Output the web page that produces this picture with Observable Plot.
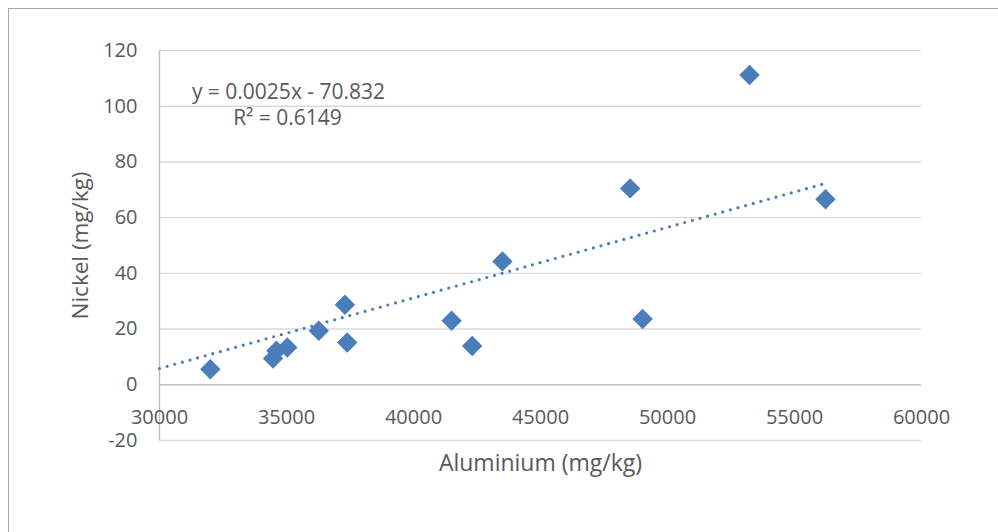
<!DOCTYPE html>
<html>
<head>
<meta charset="utf-8">
<script src="https://cdn.jsdelivr.net/npm/d3@7"></script>
<script src="https://cdn.jsdelivr.net/npm/@observablehq/plot@0.6"></script>
<style>
  html, body { margin: 0; padding: 0; background: #fff; }
  #wrap { position: relative; width: 998px; height: 532px; overflow: hidden; }
  #border { position: absolute; left: 8px; top: 8px; width: 1100px; height: 700px; border: 1.5px solid #a6a6a6; pointer-events: none; }
</style>
</head>
<body>
<div id="wrap"><div id="chart"></div><div id="border"></div></div>
<script>
const aluminium = [32000, 34470, 34600, 35030, 36270, 37300, 37390, 41500, 42310, 43500, 48530, 49020, 53230, 56220];
const nickel    = [5.6, 9.4, 12.2, 13.4, 19.4, 28.7, 15.2, 23.0, 13.9, 44.3, 70.5, 23.6, 111.2, 66.6];
const xTicks = [30000, 35000, 40000, 45000, 50000, 55000, 60000];
const yTicks = [-20, 0, 20, 40, 60, 80, 100, 120];
const trendX = [30000, 56220];
const trendY = [5.85, 72.3];
const equationText = "y = 0.0025x - 70.832";
const r2Text = "R² = 0.6149";
const xTitle = "Aluminium (mg/kg)";
const yTitle = "Nickel (mg/kg)";

const points = aluminium.map((a, i) => ({a, n: nickel[i]}));
const trend = trendX.map((x, i) => ({x, y: trendY[i]}));

const blue = "#4a7ebb";
const txt = "#595959";
const font = "Open Sans";

const chart = Plot.plot({
  width: 998,
  height: 532,
  marginLeft: 159,
  marginRight: 77,
  marginTop: 50,
  marginBottom: 92,
  style: { fontFamily: font, fontSize: "20px", color: txt, background: "white", overflow: "visible" },
  x: { domain: [30000, 60000], ticks: xTicks },
  y: { domain: [-20, 120], ticks: yTicks },
  marks: [
    Plot.ruleY(yTicks.filter(d => d !== 0), { stroke: "#d9d9d9", strokeWidth: 1.4, strokeOpacity: 1 }),
    Plot.ruleY([0], { stroke: "#bfbfbf", strokeWidth: 1.4 }),
    Plot.ruleX([30000], { y1: -20, y2: 120, stroke: "#bfbfbf", strokeWidth: 1.4 }),
    Plot.axisY({ ticks: yTicks, tickSize: 0, tickPadding: 22, label: null, fill: txt, fontSize: 20, tickFormat: d => String(d) }),
    Plot.axisX({ ticks: xTicks, tickSize: 0, tickPadding: 25, dy: -56, label: null, fill: txt, fontSize: 20, tickFormat: d => String(d) }),
    Plot.dot(points, { x: "a", y: "n", symbol: "diamond2", r: 9.2, fill: blue, stroke: null }),
    Plot.line(trend, { x: "x", y: "y", stroke: blue, strokeWidth: 3.2, strokeDasharray: "0 7.9", strokeLinecap: "round" }),
    Plot.text([equationText], { frameAnchor: "top-left", dx: 129, dy: 42, textAnchor: "middle", lineAnchor: "middle", fill: txt, fontSize: 21 }),
    Plot.text([r2Text], { frameAnchor: "top-left", dx: 128, dy: 68, textAnchor: "middle", lineAnchor: "middle", fill: txt, fontSize: 21 }),
    Plot.text([xTitle], { frameAnchor: "bottom", dy: 23, textAnchor: "middle", lineAnchor: "middle", fill: txt, fontSize: 23 }),
    Plot.text([yTitle], { frameAnchor: "left", dx: -79, rotate: -90, textAnchor: "middle", lineAnchor: "middle", fill: txt, fontSize: 22.5 })
  ]
});
document.getElementById("chart").appendChild(chart);
</script>
</body>
</html>
